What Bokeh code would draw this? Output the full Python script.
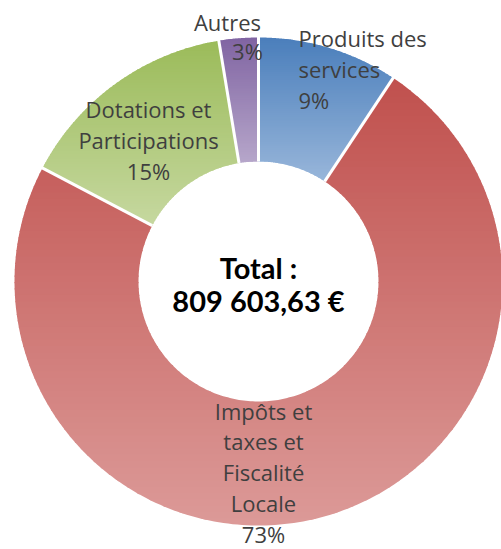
import numpy as np
from bokeh.plotting import figure
from bokeh.models import Range1d
from bokeh.embed import file_html
from bokeh.resources import INLINE
from bokeh.core.properties import value

# ---------------- data ----------------
categories = ["Produits des services", "Impôts et taxes et Fiscalité Locale",
              "Dotations et Participations", "Autres"]
label_lines = [["Produits des", "services"],
               ["Impôts et", "taxes et", "Fiscalité", "Locale"],
               ["Dotations et", "Participations"],
               ["Autres"]]
shares = [9.3, 73.4, 14.7, 2.6]
pct_labels = ["9%", "73%", "15%", "3%"]
total_title = "Total :"
total_value = "809 603,63 €"

# gradient colours (top, bottom) per slice
top_colors = ["#4a7ebb", "#c0504d", "#9bbb59", "#8064a2"]
bottom_colors = ["#98b6da", "#dc9a98", "#c6d8a0", "#b6a6ca"]

W, H = 501, 549
CX, CY = 258, 268
R_OUT, R_IN = 244, 120

p = figure(width=W, height=H, x_range=Range1d(0, W), y_range=Range1d(0, H),
           output_backend="svg", toolbar_location=None,
           x_axis_location=None, y_axis_location=None, min_border=0)
p.grid.visible = False
p.outline_line_color = None
p.background_fill_color = "white"


def hex2rgb(h):
    h = h.lstrip("#")
    return np.array([int(h[i:i + 2], 16) for i in (0, 2, 4)], dtype=float)


def rgb2hex(c):
    c = np.clip(np.round(c), 0, 255).astype(int)
    return "#%02x%02x%02x" % tuple(c)


def clip_half(poly, yc, keep_above):
    out = []
    n = len(poly)
    if n == 0:
        return out
    def inside(pt):
        return pt[1] >= yc if keep_above else pt[1] <= yc
    for i in range(n):
        P = poly[i - 1]
        Q = poly[i]
        pin, qin = inside(P), inside(Q)
        if qin:
            if not pin:
                t = (yc - P[1]) / (Q[1] - P[1])
                out.append((P[0] + t * (Q[0] - P[0]), yc))
            out.append(Q)
        elif pin:
            t = (yc - P[1]) / (Q[1] - P[1])
            out.append((P[0] + t * (Q[0] - P[0]), yc))
    return out


fr = np.array(shares) / sum(shares)
cum = np.concatenate([[0], np.cumsum(fr)])
start_angles = np.pi / 2 - 2 * np.pi * cum[:-1]
end_angles = np.pi / 2 - 2 * np.pi * cum[1:]

xs_all, ys_all, cols = [], [], []
NB = 70
for i in range(len(shares)):
    a0, a1 = start_angles[i], end_angles[i]
    t = np.linspace(a0, a1, 240)
    outer = [(CX + R_OUT * np.cos(a), CY + R_OUT * np.sin(a)) for a in t]
    inner = [(CX + R_IN * np.cos(a), CY + R_IN * np.sin(a)) for a in t[::-1]]
    poly = outer + inner
    ys = [q[1] for q in poly]
    ymin, ymax = min(ys), max(ys)
    ctop, cbot = hex2rgb(top_colors[i]), hex2rgb(bottom_colors[i])
    edges = np.linspace(ymax, ymin, NB + 1)
    for k in range(NB):
        hi, lo = edges[k] + 0.6, edges[k + 1] - 0.6
        part = clip_half(poly, lo, True)
        part = clip_half(part, hi, False)
        if len(part) < 3:
            continue
        f = (k + 0.5) / NB
        xs_all.append([q[0] for q in part])
        ys_all.append([q[1] for q in part])
        cols.append(rgb2hex(ctop + (cbot - ctop) * f))

p.patches(xs_all, ys_all, fill_color=cols, line_color=None)

# white separators between slices
p.segment(x0=CX + R_IN * np.cos(start_angles), y0=CY + R_IN * np.sin(start_angles),
          x1=CX + (R_OUT + 2) * np.cos(start_angles), y1=CY + (R_OUT + 2) * np.sin(start_angles),
          line_color="white", line_width=3)

# ---------------- labels ----------------
LABEL_FONT = value("Open Sans")
label_color = "#3f3f3f"
fs = "22px"
# anchor (x of line, y of first line), alignment, line step
anchors = [(298, 512, "left", 31.4), (263, 139, "center", 30.9),
           (148, 441, "center", 31.4), (227, 528, "center", 31.4)]
for i in range(len(categories)):
    ax, ay, al, step = anchors[i]
    lines = label_lines[i]
    xs = [ax] * len(lines)
    ys = [ay - j * step for j in range(len(lines))]
    p.text(x=xs, y=ys, text=lines, text_font=LABEL_FONT, text_font_size=fs,
           text_color=label_color, text_align=al, text_baseline="middle")
    if i == 3:
        px, py = 247, 499
    else:
        px, py = ax, ay - len(lines) * step
    p.text(x=[px], y=[py], text=[pct_labels[i]], text_font=LABEL_FONT, text_font_size=fs,
           text_color=label_color, text_align=al, text_baseline="middle")

p.text(x=[CX, CX], y=[282, 249], text=[total_title, total_value],
       text_font=value("Lato"), text_font_style="bold", text_font_size="29px",
       text_color="black", text_align="center", text_baseline="middle")

open("out.html", "w").write(file_html(p, INLINE))
